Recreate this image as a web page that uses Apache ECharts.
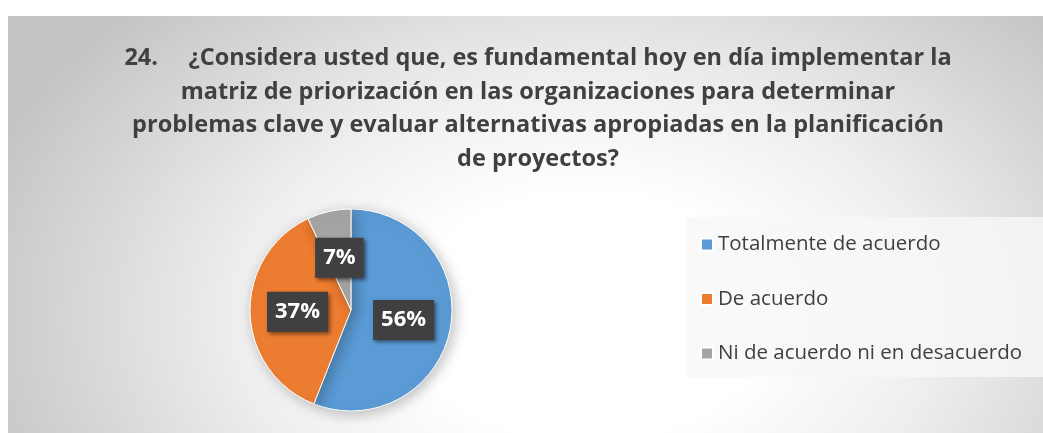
<!DOCTYPE html>
<html>
<head>
<meta charset="utf-8">
<script src="https://cdn.jsdelivr.net/npm/echarts@6/dist/echarts.min.js"></script>
<style>
  html, body { margin: 0; padding: 0; background: #fff; }
  #chart { position: absolute; left: 8px; top: 16px; width: 1035px; height: 417px;
    background: radial-gradient(ellipse 62% 105% at 56% 72%, #ffffff 0%, #ffffff 28%, #eeeeee 55%, #d6d6d6 80%, #c4c4c4 100%); }
</style>
</head>
<body>
<div id="chart"></div>
<script>
// survey question 24 answers
const title = '24.     ¿Considera usted que, es fundamental hoy en día implementar la\nmatriz de priorización en las organizaciones para determinar\nproblemas clave y evaluar alternativas apropiadas en la planificación\nde proyectos?'
const categories = ['Totalmente de acuerdo', 'De acuerdo', 'Ni de acuerdo ni en desacuerdo']
const values = [56, 37, 7]
const colors = ['#5B9BD5', '#ED7D31', '#A5A5A5']

const chart = echarts.init(document.getElementById('chart'))

chart.setOption({
  animation: false,
  color: colors,
  title: {
    text: title,
    left: 525,
    textAlign: 'center',
    top: 21,
    textStyle: {
      fontFamily: 'Open Sans, sans-serif',
      fontWeight: 'bold',
      fontSize: 23.5,
      lineHeight: 33.5,
      color: '#404040'
    }
  },
  graphic: [{
    type: 'rect',
    left: 678,
    top: 201,
    shape: { width: 357, height: 160 },
    style: { fill: 'rgba(247,247,247,0.8)' },
    z: 0
  }],
  legend: {
    orient: 'vertical',
    left: 692,
    top: 218,
    padding: 0,
    itemWidth: 12,
    itemHeight: 12,
    itemGap: 33.5,
    icon: 'rect',
    textStyle: {
      fontFamily: 'Open Sans, sans-serif',
      fontSize: 20.5,
      lineHeight: 20,
      color: '#404040',
      padding: [0, 0, 0, 0]
    },
    data: categories
  },
  series: [{
    type: 'pie',
    center: [343, 294],
    radius: 101,
    startAngle: 90,
    clockwise: true,
    itemStyle: {
      borderColor: '#fff',
      borderWidth: 1,
      shadowBlur: 14,
      shadowColor: 'rgba(0,0,0,0.25)',
      shadowOffsetX: 3,
      shadowOffsetY: 3
    },
    label: {
      position: 'inside',
      formatter: '{d}%',
      color: '#fff',
      fontFamily: 'Open Sans, sans-serif',
      fontWeight: 'bold',
      fontSize: 22,
      lineHeight: 24,
      backgroundColor: '#404040',
      padding: [8, 8],
      shadowBlur: 4,
      shadowColor: 'rgba(0,0,0,0.5)',
      shadowOffsetX: 2,
      shadowOffsetY: 2
    },
    labelLine: { show: false },
    emphasis: { disabled: true },
    data: categories.map((name, i) => ({ name, value: values[i] }))
  }]
})
</script>
</body>
</html>
